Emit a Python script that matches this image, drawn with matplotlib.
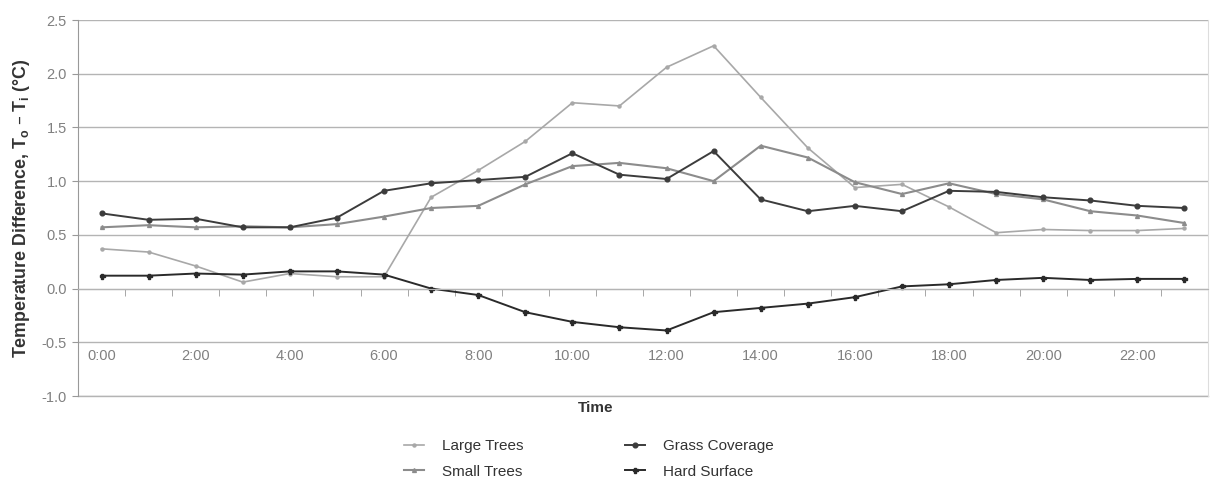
import matplotlib
matplotlib.use("Agg")
import matplotlib.pyplot as plt
import numpy as np

plt.rcParams['font.family'] = ['Liberation Sans', 'DejaVu Sans']

hours = [f"{h}:00" for h in range(24)]
large_trees = [0.37, 0.34, 0.21, 0.06, 0.14, 0.11, 0.11, 0.85, 1.10, 1.37, 1.73, 1.70,
               2.06, 2.26, 1.78, 1.31, 0.94, 0.97, 0.76, 0.52, 0.55, 0.54, 0.54, 0.56]
small_trees = [0.57, 0.59, 0.57, 0.58, 0.57, 0.60, 0.67, 0.75, 0.77, 0.97, 1.14, 1.17,
               1.12, 1.00, 1.33, 1.22, 0.99, 0.88, 0.98, 0.88, 0.83, 0.72, 0.68, 0.61]
grass = [0.70, 0.64, 0.65, 0.57, 0.57, 0.66, 0.91, 0.98, 1.01, 1.04, 1.26, 1.06,
         1.02, 1.28, 0.83, 0.72, 0.77, 0.72, 0.91, 0.90, 0.85, 0.82, 0.77, 0.75]
hard = [0.12, 0.12, 0.14, 0.13, 0.16, 0.16, 0.13, 0.00, -0.06, -0.22, -0.31, -0.36,
        -0.39, -0.22, -0.18, -0.14, -0.08, 0.02, 0.04, 0.08, 0.10, 0.08, 0.09, 0.09]
y_ticks = [-1.0, -0.5, 0.0, 0.5, 1.0, 1.5, 2.0, 2.5]

fig = plt.figure(figsize=(12.14, 4.83), dpi=100)
ax = fig.add_axes([78/1214, 1-396/483, (1208-78)/1214, (396-20)/483])
x = np.arange(len(hours))

ax.plot(x, large_trees, color='#a8a8a8', lw=1.2, marker='o', ms=2.2, label='Large Trees')
ax.plot(x, small_trees, color='#8c8c8c', lw=1.5, marker='^', ms=2.8, label='Small Trees')
ax.plot(x, grass, color='#3c3c3c', lw=1.4, marker='o', ms=3.4, label='Grass Coverage')
ax.plot(x, hard, color='#2a2a2a', lw=1.4, marker='P', ms=3.6, label='Hard Surface')

ax.set_xlim(-0.5, 23.5)
ax.set_ylim(-1.0, 2.5)
ax.set_yticks(y_ticks)
ax.set_yticklabels([f"{v:.1f}" if v >= 0 else f"-{abs(v):.1f}" for v in y_ticks],
                   color='#808080', fontsize=10.5)
ax.yaxis.grid(True, color='#b4b4b4', lw=1.0)
ax.axhline(-1.0, color='#b4b4b4', lw=1.0, clip_on=False, zorder=0)
ax.set_axisbelow(True)
ax.tick_params(axis='y', length=4, color='#999999', pad=4)

# category axis crossing at zero
ax.spines['bottom'].set_position(('data', 0))
ax.spines['bottom'].set_color('#b4b4b4')
ax.spines['left'].set_color('#999999')
ax.spines['right'].set_color('#dddddd')
ax.spines['top'].set_visible(False)
ax.set_xticks([])
ax.set_xticks(np.arange(0.5, 23, 1.0), minor=True)
ax.tick_params(axis='x', which='minor', direction='out', length=5, color='#999999')
for i in range(0, 24, 2):
    ax.text(i, -0.63, hours[i], ha='center', va='center', fontsize=10.5, color='#808080')

ax.set_ylabel('Temperature Difference, T$_\\mathregular{o}$ – T$_\\mathregular{i}$ (°C)',
              fontsize=12.8, fontweight='bold', color='#333333', labelpad=7)
fig.text(596/1214, 1-408/483, 'Time', ha='center', va='center', fontsize=11,
         fontweight='bold', color='#333333')

leg = fig.legend(loc='center', bbox_to_anchor=(589/1214, 1-459/483), ncol=2,
                 frameon=False, fontsize=11, handlelength=1.3, handletextpad=1.2,
                 columnspacing=6.6, labelspacing=0.75)
for t in leg.get_texts():
    t.set_color('#333333')

fig.savefig('out.png', dpi=100)
